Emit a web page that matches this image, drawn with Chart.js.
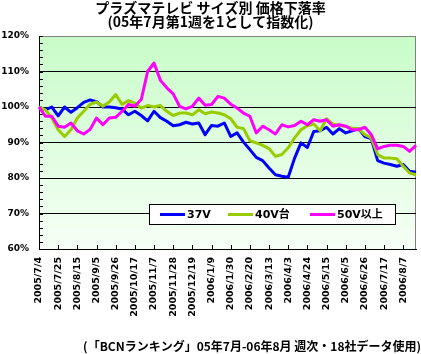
<!DOCTYPE html>
<html><head><meta charset="utf-8">
<script src="https://cdn.jsdelivr.net/npm/chart.js@4.4.1/dist/chart.umd.min.js"></script>
<style>html,body{margin:0;padding:0;background:#fff;}</style>
</head><body>
<canvas id="c" width="421" height="354"></canvas>
<script>
const categories = [
 '2005/7/4','2005/7/11','2005/7/18','2005/7/25','2005/8/1','2005/8/8','2005/8/15','2005/8/22','2005/8/29','2005/9/5',
 '2005/9/12','2005/9/19','2005/9/26','2005/10/3','2005/10/10','2005/10/17','2005/10/24','2005/10/31','2005/11/7','2005/11/14',
 '2005/11/21','2005/11/28','2005/12/5','2005/12/12','2005/12/19','2005/12/26','2006/1/2','2006/1/9','2006/1/16','2006/1/23',
 '2006/1/30','2006/2/6','2006/2/13','2006/2/20','2006/2/27','2006/3/6','2006/3/13','2006/3/20','2006/3/27','2006/4/3',
 '2006/4/10','2006/4/17','2006/4/24','2006/5/1','2006/5/8','2006/5/15','2006/5/22','2006/5/29','2006/6/5','2006/6/12',
 '2006/6/19','2006/6/26','2006/7/3','2006/7/10','2006/7/17','2006/7/24','2006/7/31','2006/8/7','2006/8/14','2006/8/21'
];
const labelEvery = 3;
const seriesNames = ['37V', '40V台', '50V以上'];
const s37V = [
 100, 99.2, 100, 97.5, 100, 98.5, 99.8, 101.3, 102, 101.5,
 100, 100, 99.8, 99.4, 97.8, 98.8, 97.6, 96.1, 98.8, 97,
 96, 94.7, 95, 95.7, 95.2, 95.5, 92.2, 94.8, 94.6, 95.5,
 91.7, 92.7, 90.1, 88, 85.8, 84.9, 82.8, 80.9, 80.5, 80.2,
 85.6, 89.9, 88.6, 93.1, 93.3, 94.3, 92.4, 93.9, 92.7, 93.3,
 93.9, 91.7, 91.1, 84.9, 84.2, 83.8, 83.3, 83.8, 81.9, 81.6
];
const s40V = [
 100, 99.2, 96.9, 93.6, 91.7, 93.6, 96.9, 98.8, 100.8, 101.4,
 100.2, 101.4, 103.5, 100.7, 101.8, 101.1, 99.7, 100.4, 100, 100.4,
 98.8, 97.6, 98.3, 98.3, 97.8, 99.2, 98.1, 98.6, 98.3, 97.8,
 96.7, 94.3, 93.9, 90.5, 89.9, 89.2, 88.3, 86.1, 86.6, 88.5,
 91.3, 93.6, 94.7, 95.2, 93.3, 96.7, 95.2, 94.8, 94.6, 94,
 93.9, 92.2, 91.3, 86.6, 85.6, 85.6, 85.4, 83.3, 81.4, 80.9
];
const s50V = [
 100, 97.4, 97.4, 94.6, 94.3, 95.5, 93.3, 92.4, 93.7, 96.9,
 95, 96.9, 97.1, 98.8, 100.7, 100.2, 102.1, 110, 112.4, 107.5,
 105.4, 103.7, 100.2, 99.5, 100.2, 102.5, 100.5, 100.7, 103, 102.5,
 100.8, 99.7, 98.3, 97.4, 92.7, 94.6, 93.6, 92.4, 95, 94.4,
 94.8, 96, 95, 96.4, 96, 96.4, 94.6, 95, 94.6, 93.6,
 93.6, 94.3, 92.2, 88.2, 88.9, 89.2, 89.2, 88.9, 87.5, 89.2
];
const titleLines = ['プラズマテレビ サイズ別 価格下落率', '(05年7月第1週を1として指数化)'];
const footerText = '(「BCNランキング」05年7月-06年8月 週次・18社データ使用)';

const bgPlugin = {
  id: 'bg',
  beforeDraw(chart) {
    const {ctx, chartArea: a} = chart;
    const g = ctx.createLinearGradient(0, a.top, 0, a.bottom);
    g.addColorStop(0, '#c8fcc8');
    g.addColorStop(1, '#f6fff6');
    ctx.save();
    ctx.fillStyle = g;
    ctx.fillRect(a.left, a.top, a.right - a.left, a.bottom - a.top);
    ctx.strokeStyle = '#808080';
    ctx.lineWidth = 1;
    ctx.beginPath();
    ctx.moveTo(a.left, a.top + 0.5);
    ctx.lineTo(a.right - 0.5, a.top + 0.5);
    ctx.lineTo(a.right - 0.5, a.bottom);
    ctx.stroke();
    ctx.restore();
  },
  beforeDatasetsDraw(chart) {
    const {ctx, chartArea: a, scales: {x, y}} = chart;
    ctx.save();
    ctx.strokeStyle = '#000';
    ctx.lineWidth = 1;
    ctx.beginPath();
    for (let v = y.min; v <= y.max; v += 2) {
      const py = Math.round(y.getPixelForValue(v)) + 0.5;
      ctx.moveTo(a.left, py); ctx.lineTo(a.left + 4, py);
    }
    for (let i = 0; i < categories.length; i += labelEvery) {
      const px = Math.round(x.getPixelForValue(i)) + 0.5;
      ctx.moveTo(px, a.bottom); ctx.lineTo(px, a.bottom - 4);
    }
    ctx.stroke();
    ctx.restore();
  }
};

const boxLegend = {
  id: 'boxLegend',
  afterDatasetsDraw(chart) {
    const {ctx, chartArea: a} = chart;
    const L = a.left + 110, T = a.bottom - 45, W = 247, H = 21;
    ctx.save();
    ctx.fillStyle = '#fff';
    ctx.fillRect(L, T, W, H);
    ctx.strokeStyle = '#000';
    ctx.lineWidth = 1;
    ctx.strokeRect(L + 0.5, T + 0.5, W - 1, H - 1);
    const offs = [11, 79, 161];
    ctx.font = 'bold 11px "DejaVu Sans", "Noto Sans CJK JP"';
    ctx.textBaseline = 'middle';
    ctx.textAlign = 'left';
    chart.data.datasets.forEach((ds, i) => {
      const x0 = L + offs[i], yy = T + H / 2;
      ctx.strokeStyle = ds.borderColor;
      ctx.lineWidth = 3;
      ctx.beginPath(); ctx.moveTo(x0, yy); ctx.lineTo(x0 + 25, yy); ctx.stroke();
      ctx.fillStyle = '#000';
      ctx.fillText(ds.label, x0 + 27, yy + 0.5);
    });
    ctx.restore();
  }
};

new Chart(document.getElementById('c'), {
  type: 'line',
  data: {
    labels: categories,
    datasets: [
      {label: seriesNames[0], data: s37V, borderColor: '#0000ff', order: 3},
      {label: seriesNames[1], data: s40V, borderColor: '#99cc00', order: 2},
      {label: seriesNames[2], data: s50V, borderColor: '#ff00ff', order: 1}
    ]
  },
  options: {
    responsive: false,
    animation: false,
    devicePixelRatio: 1,
    layout: {padding: {left: 0, right: 0, top: 0, bottom: 0}},
    elements: {
      line: {borderWidth: 3, tension: 0, fill: false, borderJoinStyle: 'round'},
      point: {radius: 0, hoverRadius: 0}
    },
    plugins: {
      legend: {display: false},
      tooltip: {enabled: false},
      title: {
        display: true, text: titleLines, color: '#000',
        font: {family: '"Noto Sans CJK JP"', size: 14, weight: 'bold', lineHeight: 1.0},
        padding: {top: 1, bottom: 7}
      },
      subtitle: {
        display: true, position: 'bottom', align: 'end', text: footerText, color: '#000',
        font: {family: '"Noto Sans CJK JP"', size: 12, weight: 'bold', lineHeight: 1.0},
        padding: {top: 11, bottom: 2}
      }
    },
    scales: {
      x: {
        type: 'category',
        offset: false,
        border: {display: true, color: '#000', width: 1},
        grid: {display: false, drawTicks: false},
        ticks: {
          autoSkip: false, minRotation: 90, maxRotation: 90, padding: 8, color: '#000',
          font: {family: '"DejaVu Sans"', size: 9.5, weight: 'bold'},
          callback(v, i) { return i % labelEvery === 0 ? this.getLabelForValue(v) : ''; }
        },
        afterFit(s) { s.height = 80; s.paddingLeft = 0; s.paddingRight = 5; }
      },
      y: {
        min: 60, max: 120,
        border: {display: true, color: '#000', width: 1},
        grid: {
          drawTicks: false, lineWidth: 1,
          color: c => c.tick.value === 120 ? '#808080' : (c.tick.value === 60 ? 'rgba(0,0,0,0)' : '#000')
        },
        ticks: {
          stepSize: 10, padding: 10, color: '#000',
          font: {family: '"DejaVu Sans"', size: 9, weight: 'bold'},
          callback: v => v + '%'
        },
        afterFit(s) { s.width = 39; }
      }
    }
  },
  plugins: [bgPlugin, boxLegend]
});
</script>
</body></html>
